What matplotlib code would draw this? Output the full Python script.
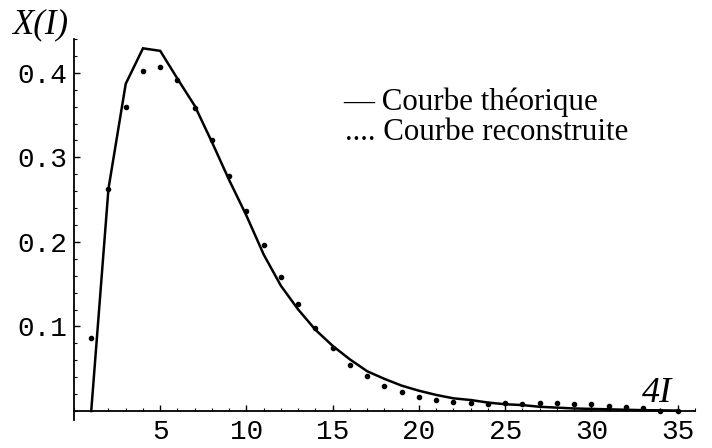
import matplotlib
matplotlib.use("Agg")
import matplotlib.pyplot as plt
from matplotlib.ticker import MultipleLocator, FixedLocator

# Data
x_vals = list(range(1, 36))
theorique = [0.0, 0.263, 0.387, 0.429, 0.426, 0.393, 0.361, 0.318, 0.273, 0.231,
             0.185, 0.148, 0.120, 0.096, 0.077, 0.061, 0.047, 0.038, 0.030, 0.024,
             0.019, 0.015, 0.013, 0.010, 0.008, 0.007, 0.005, 0.004, 0.003, 0.0025,
             0.002, 0.0015, 0.001, 0.0008, 0.0005]
reconstruite = [0.086, 0.263, 0.360, 0.402, 0.407, 0.391, 0.359, 0.320, 0.278, 0.236,
                0.196, 0.158, 0.126, 0.098, 0.075, 0.055, 0.041, 0.029, 0.022, 0.016,
                0.0125, 0.011, 0.009, 0.0082, 0.0094, 0.0086, 0.009, 0.0094, 0.0078, 0.0078,
                0.0063, 0.0043, 0.0035, 0.0, 0.0]
x_ticks = [5, 10, 15, 20, 25, 30, 35]
y_ticks = [0.1, 0.2, 0.3, 0.4]
y_tick_labels = ["0.1", "0.2", "0.3", "0.4"]

fig = plt.figure(figsize=(7.12, 4.48), dpi=100)
ax = fig.add_axes([0.1039, 0.0618, 0.8722, 0.8511])

ax.plot(x_vals, theorique, color="black", lw=1.8, solid_joinstyle="miter")
ax.plot(x_vals, reconstruite, linestyle="none", marker="o", ms=3.0, color="black")

ax.set_xlim(0, 36)
ax.set_ylim(-0.011, 0.440)

for s in ["top", "right"]:
    ax.spines[s].set_visible(False)
ax.spines["bottom"].set_position(("data", 0))
ax.spines["left"].set_linewidth(1.3)
ax.spines["bottom"].set_linewidth(1.3)

ax.xaxis.set_major_locator(FixedLocator(x_ticks))
ax.xaxis.set_minor_locator(MultipleLocator(1))
ax.yaxis.set_major_locator(FixedLocator(y_ticks))
ax.yaxis.set_minor_locator(MultipleLocator(0.02))
ax.set_yticklabels(y_tick_labels)

mono = "Liberation Mono"
ax.tick_params(axis="both", which="major", direction="in", length=4.0, width=1.0,
               labelsize=20, pad=6)
ax.tick_params(axis="both", which="minor", direction="in", length=2.0, width=0.8)
ax.tick_params(axis="y", which="major", pad=5)
for lab in ax.get_xticklabels() + ax.get_yticklabels():
    lab.set_fontfamily(mono)

serif = "Liberation Serif"
fig.text(12 / 712, 1 - 33 / 448, "X(I)", fontsize=25, fontstyle="italic",
         family=serif, ha="left", va="baseline")
fig.text(642 / 712, 1 - 402 / 448, "4I", fontsize=26, fontstyle="italic",
         family=serif, ha="left", va="baseline")
fig.text(343 / 712, 1 - 110 / 448, "\u2014 Courbe théorique", fontsize=22.3,
         family=serif, ha="left", va="baseline")
fig.text(345 / 712, 1 - 140 / 448, ".... Courbe reconstruite", fontsize=22.3,
         family=serif, ha="left", va="baseline")

fig.savefig("out.png", dpi=100)
